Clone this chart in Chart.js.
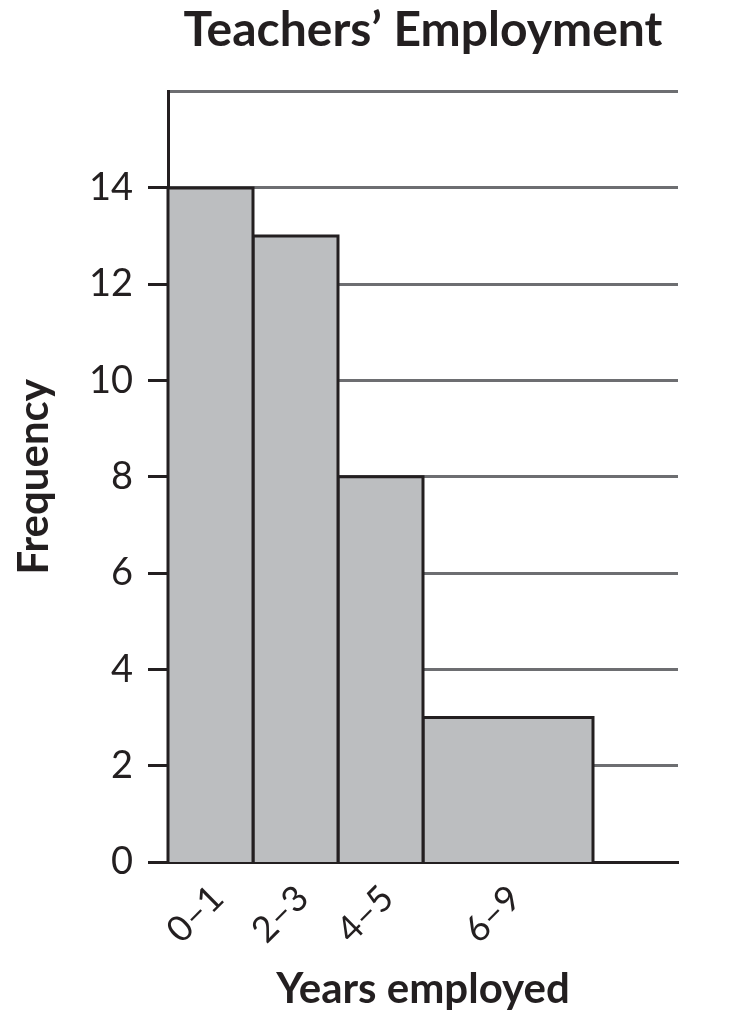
<!DOCTYPE html>
<html>
<head>
<meta charset="utf-8">
<script src="https://cdn.jsdelivr.net/npm/chart.js@4.4.1/dist/chart.umd.min.js"></script>
<style>
  html, body { margin: 0; padding: 0; background: #ffffff; }
  #wrap { width: 736px; height: 1020px; position: relative; }
</style>
</head>
<body>
<div id="wrap"><canvas id="c" width="736" height="1020"></canvas></div>
<script>
// ---- data ----
const categories = ['0–1', '2–3', '4–5', '6–9'];
const binStarts = [0, 2, 4, 6];
const binEnds = [2, 4, 6, 10];
const frequencies = [14, 13, 8, 3];
const yTickValues = [0, 2, 4, 6, 8, 10, 12, 14, 16];
const xMin = 0, xMax = 12;
const yMin = 0, yMax = 16;

const titleText = 'Teachers’ Employment';
const xTitle = 'Years employed';
const yTitle = 'Frequency';

const INK = '#231f20';
const GRID = '#6d6e71';
const FILL = '#bcbec0';
const FONT = 'Lato, "Open Sans", "DejaVu Sans", sans-serif';

const datasets = categories.map((cat, i) => ({
  label: cat,
  data: [
    { x: binStarts[i], y: 0 },
    { x: binStarts[i], y: frequencies[i] },
    { x: binEnds[i], y: frequencies[i] },
    { x: binEnds[i], y: 0 }
  ],
  fill: 'origin',
  backgroundColor: FILL,
  borderColor: INK,
  borderWidth: 3,
  borderJoinStyle: 'miter',
  pointRadius: 0,
  pointHitRadius: 0,
  tension: 0,
  clip: 8
}));

const binCenters = binStarts.map((s, i) => (s + binEnds[i]) / 2);

new Chart(document.getElementById('c'), {
  type: 'line',
  data: { datasets },
  options: {
    responsive: false,
    animation: false,
    events: [],
    layout: { padding: { left: 9, right: 58, top: 0, bottom: 5 } },
    plugins: {
      legend: { display: false },
      tooltip: { enabled: false },
      title: {
        display: true,
        text: titleText,
        fullSize: false,
        color: INK,
        font: { family: FONT, size: 48, weight: '700' },
        padding: { top: 2, bottom: 32 }
      }
    },
    scales: {
      x: {
        type: 'linear',
        min: xMin,
        max: xMax,
        afterBuildTicks: (scale) => {
          scale.ticks = binCenters.map(v => ({ value: v }));
        },
        afterFit: (scale) => { scale.height = 153; },
        grid: { display: true, drawOnChartArea: false, drawTicks: false },
        border: { display: true, color: INK, width: 3 },
        ticks: {
          autoSkip: false,
          minRotation: 45,
          maxRotation: 45,
          padding: 15,
          labelOffset: 7,
          color: INK,
          font: { family: FONT, size: 36 },
          callback: (value, index) => categories[index]
        },
        title: {
          display: true,
          text: xTitle,
          color: INK,
          font: { family: FONT, size: 42, weight: '700' },
          padding: { top: 0, bottom: 0 }
        }
      },
      y: {
        type: 'linear',
        min: yMin,
        max: yMax,
        afterBuildTicks: (scale) => {
          scale.ticks = yTickValues.map(v => ({ value: v }));
        },
        afterFit: (scale) => { scale.width = 168 - 9; },
        grid: {
          display: true,
          drawOnChartArea: true,
          drawTicks: true,
          tickLength: 20,
          lineWidth: 3,
          color: (ctx) => (ctx.tick && ctx.tick.value === 0 ? INK : GRID),
          tickColor: (ctx) => (ctx.tick && ctx.tick.value === yMax ? 'rgba(0,0,0,0)' : INK),
          tickWidth: 3
        },
        border: { display: true, color: INK, width: 3 },
        ticks: {
          padding: 15,
          color: INK,
          font: { family: FONT, size: 38 },
          callback: (value) => (value === yMax ? '' : String(value))
        },
        title: {
          display: true,
          text: yTitle,
          color: INK,
          font: { family: FONT, size: 42, weight: '700' },
          padding: 0
        }
      }
    }
  }
});
</script>
</body>
</html>
